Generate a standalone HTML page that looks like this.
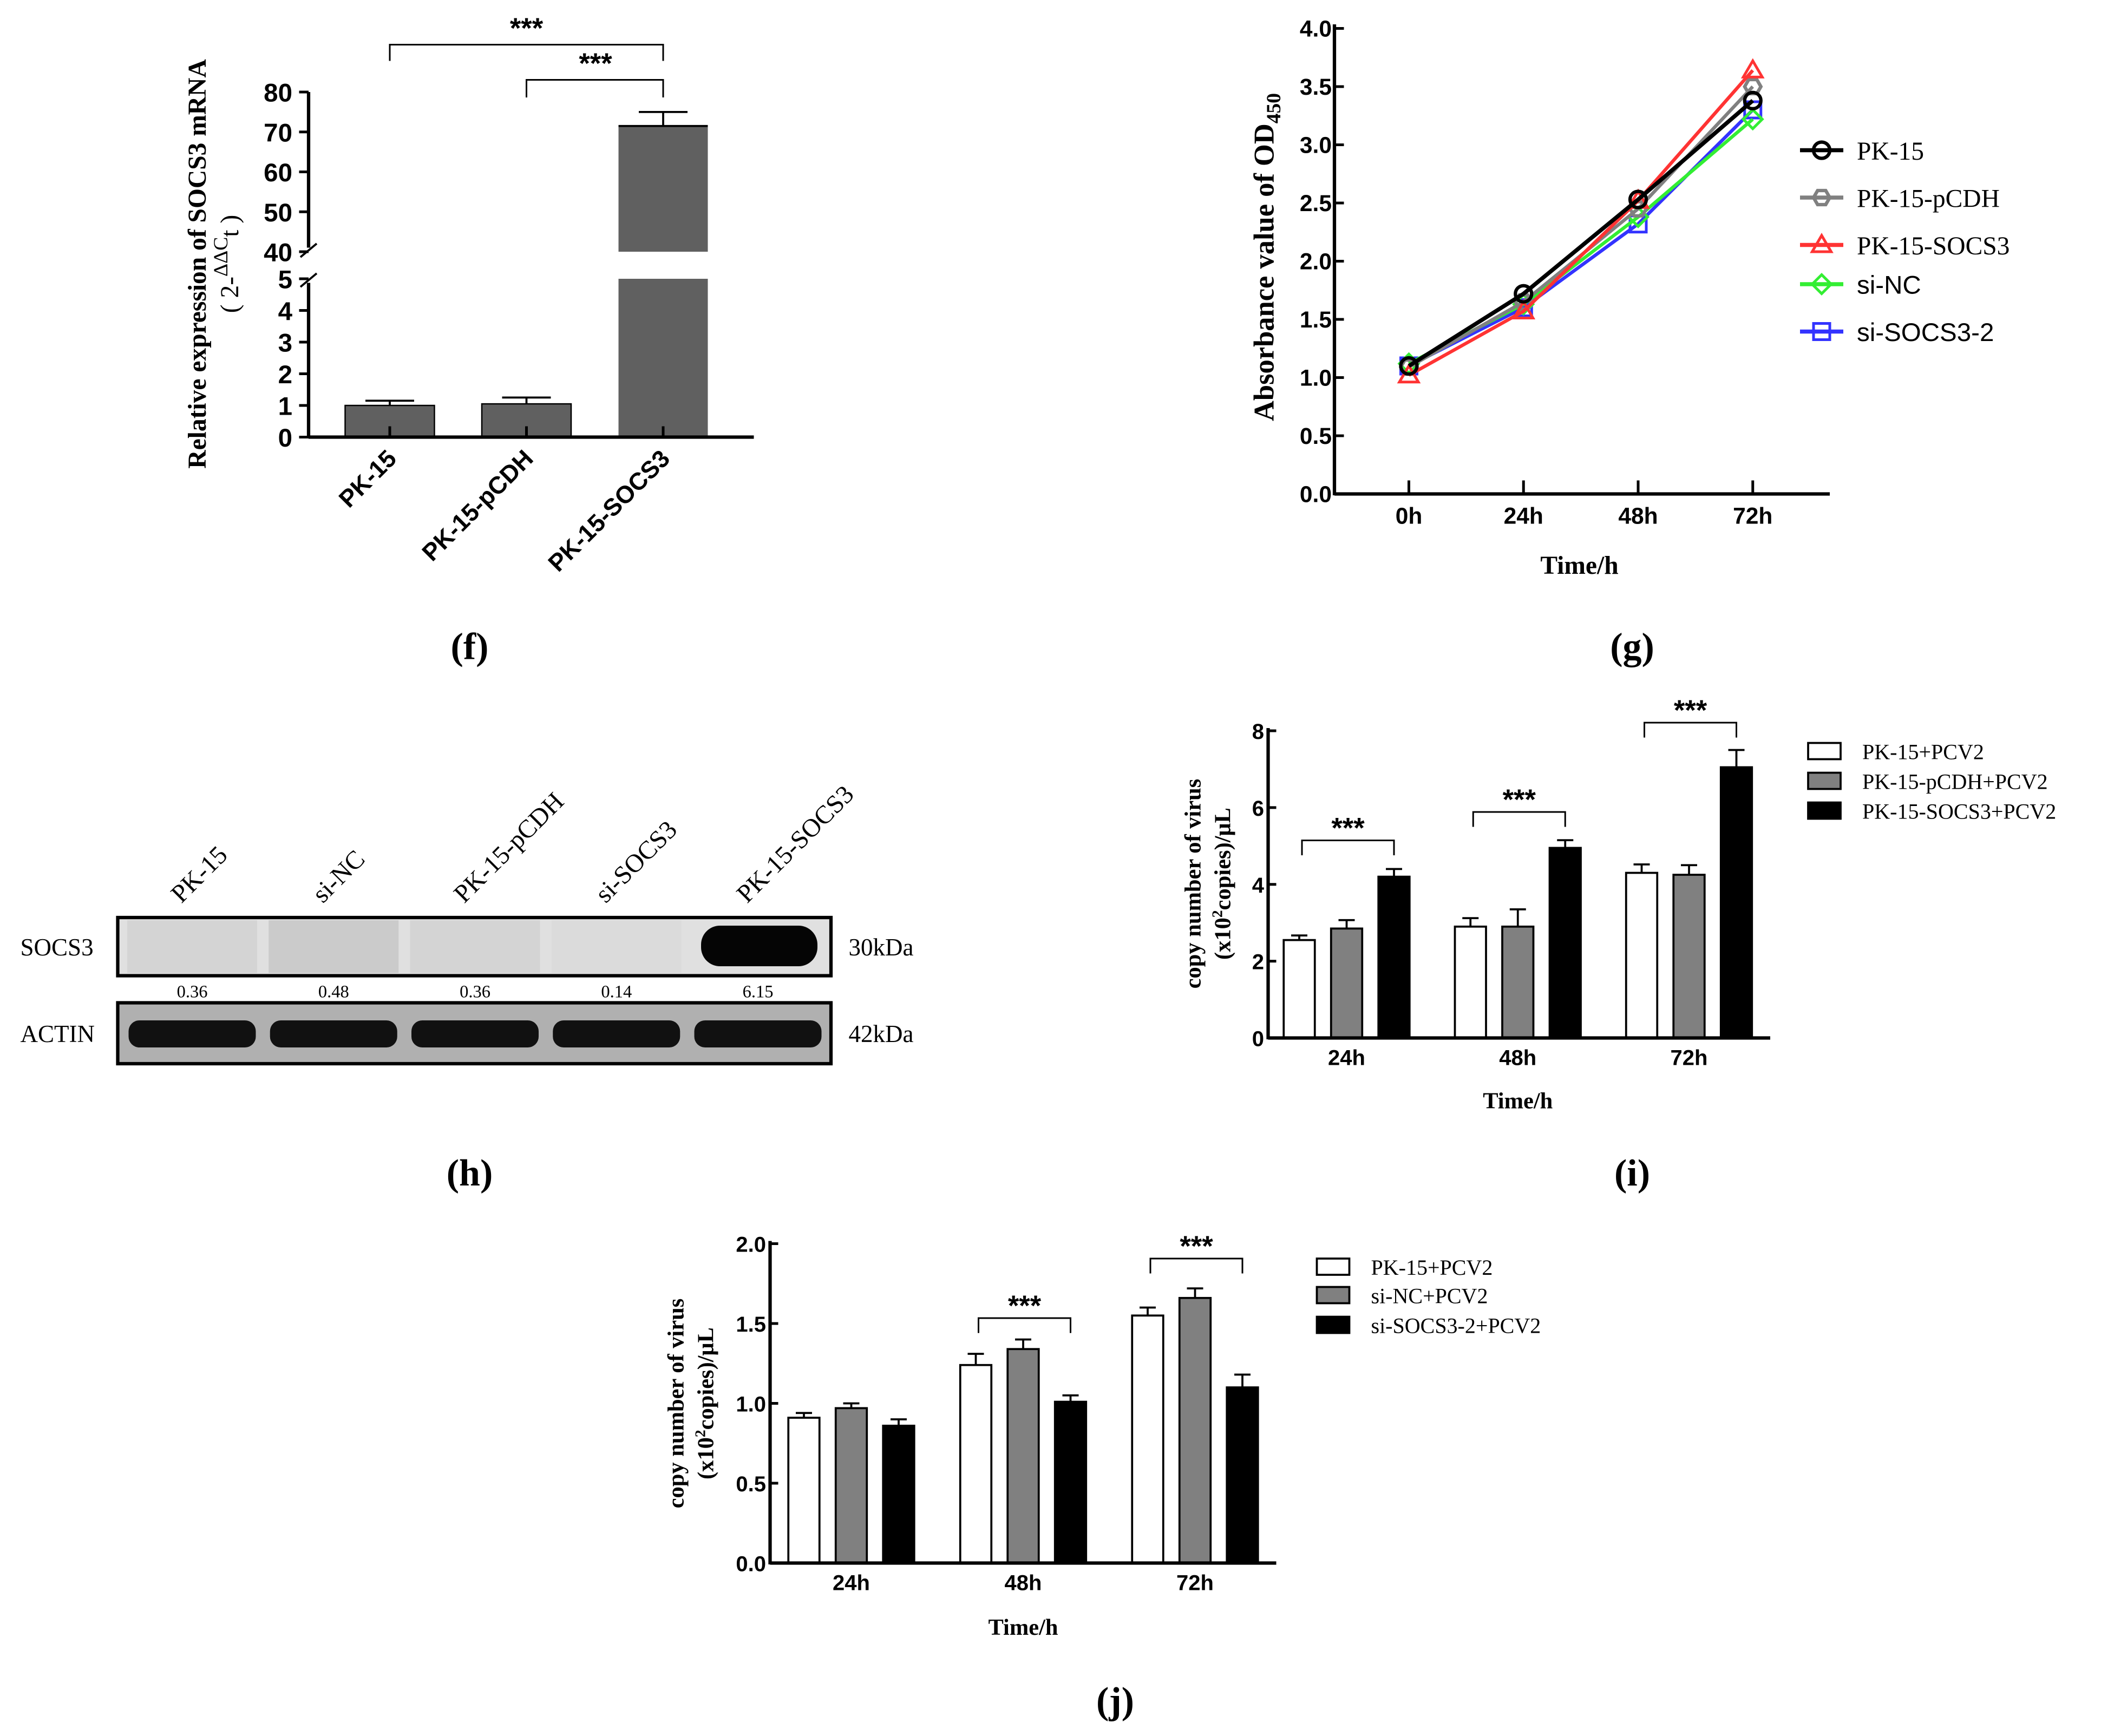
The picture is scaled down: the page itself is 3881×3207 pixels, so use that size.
<!DOCTYPE html>
<html><head><meta charset="utf-8">
<style>
html,body{margin:0;padding:0;background:#fff;}
svg{display:block;}
.ax{font-family:"Liberation Sans",Arial,sans-serif;font-weight:bold;}
.sf{font-family:"Liberation Serif","Times New Roman",serif;}
.ln{font-family:"Liberation Sans",Arial,sans-serif;}
</style></head>
<body>
<svg id="root" width="3881" height="3207" viewBox="0 0 1552.4 1282.8" xmlns="http://www.w3.org/2000/svg">
<rect width="1552.4" height="1282.8" fill="#fff"/>
<g id="pf"></g>
<g id="pg"></g>
<g id="ph"></g>
<g id="pi"></g>
<g id="pj"></g>
</svg>
<script>
// ---------- data ----------
const fCategories = ["PK-15","PK-15-pCDH","PK-15-SOCS3"];
const fValues = [1.0, 1.05, 71.5];
const fErrors = [0.15, 0.2, 3.5];
const fUpperTicks = [40,50,60,70,80];
const fLowerTicks = [0,1,2,3,4,5];

const gTimes = ["0h","24h","48h","72h"];
const gSeriesNames = ["PK-15","PK-15-pCDH","PK-15-SOCS3","si-NC","si-SOCS3-2"];
const gPK15 = [1.10,1.72,2.53,3.38];
const gPCDH = [1.09,1.65,2.45,3.50];
const gSOCS3 = [1.02,1.57,2.52,3.64];
const gSiNC = [1.12,1.63,2.38,3.22];
const gSiSOCS3 = [1.10,1.60,2.32,3.30];
const gTicks = [0,0.5,1,1.5,2,2.5,3,3.5,4];

const hLanes = ["PK-15","si-NC","PK-15-pCDH","si-SOCS3","PK-15-SOCS3"];
const hRatios = ["0.36","0.48","0.36","0.14","6.15"];

const iGroups = ["24h","48h","72h"];
const iSeriesNames = ["PK-15+PCV2","PK-15-pCDH+PCV2","PK-15-SOCS3+PCV2"];
const iPK15 = [2.55,2.9,4.3];
const iPK15Err = [0.12,0.22,0.22];
const iPCDH = [2.85,2.9,4.25];
const iPCDHErr = [0.22,0.45,0.25];
const iSOCS3 = [4.2,4.95,7.05];
const iSOCS3Err = [0.2,0.2,0.45];
const iTicks = [0,2,4,6,8];

const jGroups = ["24h","48h","72h"];
const jSeriesNames = ["PK-15+PCV2","si-NC+PCV2","si-SOCS3-2+PCV2"];
const jPK15 = [0.91,1.24,1.55];
const jPK15Err = [0.03,0.07,0.05];
const jSiNC = [0.97,1.34,1.66];
const jSiNCErr = [0.03,0.06,0.06];
const jSiSOCS3 = [0.86,1.01,1.10];
const jSiSOCS3Err = [0.04,0.04,0.08];
const jTicks = [0,0.5,1.0,1.5,2.0];

// ---------- helpers ----------
const NS="http://www.w3.org/2000/svg";
function mk(parent, tag, attrs, text){
  const e=document.createElementNS(NS,tag);
  for(const k in attrs) e.setAttribute(k,attrs[k]);
  if(text!==undefined) e.textContent=text;
  parent.appendChild(e); return e;
}
function line(p,x1,y1,x2,y2,w,c,name){
  const e=mk(p,"line",{x1,y1,x2,y2,stroke:c||"#000","stroke-width":w||2});
  
  
  return e;
}
function txt(p,x,y,s,cls,size,anchor,name,extra){
  const a={x,y,"class":cls,"font-size":size,"text-anchor":anchor||"middle"};
  if(extra) for(const k in extra) a[k]=extra[k];
  const e=mk(p,"text",a,s);
  
  
  return e;
}
function bracket(p,x1,x2,y,drop,sx,sy,name){
  const e=mk(p,"path",{d:`M${x1},${y+drop}V${y}H${x2}V${y+drop}`,fill:"none",stroke:"#000","stroke-width":1.2});
  
  
  txt(p,sx,sy+6,"***","ax",21,"middle","significance-stars");
}

// ---------- panel f ----------
(function(){
  const p=document.getElementById("pf");
  const x0=228, xEnd=557, y0=323;
  const yLow=v=>323-v*23.4;
  const yUp=v=>186-(v-40)*2.95;
  const yv=v=>v<=5?yLow(v):yUp(v);
  const cx=i=>288+i*101;
  const bw=66;
  fCategories.forEach((c,i)=>{
    const v=fValues[i], e=fErrors[i], x=cx(i);
    const g=mk(p,"g",{});
    
    
    if(v<=5){
      mk(g,"rect",{x:x-bw/2,y:yLow(v),width:bw,height:y0-yLow(v),fill:"#606060",stroke:"#000","stroke-width":1});
    } else {
      mk(g,"rect",{x:x-bw/2,y:yLow(5),width:bw,height:y0-yLow(5),fill:"#606060"});
      mk(g,"rect",{x:x-bw/2,y:yUp(v),width:bw,height:yUp(40)-yUp(v),fill:"#606060"});
      line(g,x-bw/2,yUp(v),x+bw/2,yUp(v),1.5,"#000","bar-top");
    }
    line(g,x,yv(v),x,yv(v+e),1.5,"#000","error-bar");
    line(g,x-18,yv(v+e),x+18,yv(v+e),1.5,"#000","error-cap");
    line(g,x,y0,x,y0-8,2,"#000","x-tick");
  });
  line(p,x0,68,x0,183,2.5,"#000","y-axis-upper");
  line(p,x0,209,x0,y0+1,2.5,"#000","y-axis-lower");
  line(p,222,190,234,180,1.5,"#000","axis-break");
  line(p,222,212,234,202,1.5,"#000","axis-break");
  line(p,x0,y0,xEnd,y0,2.5,"#000","x-axis");
  fUpperTicks.forEach(t=>{line(p,x0-7,yUp(t),x0,yUp(t),2,"#000","y-tick");txt(p,216,yUp(t)+7,String(t),"ax",19,"end","y-tick-label");});
  fLowerTicks.forEach(t=>{line(p,x0-7,yLow(t),x0,yLow(t),2,"#000","y-tick");txt(p,216,yLow(t)+7,String(t),"ax",19,"end","y-tick-label");});
  fCategories.forEach((c,i)=>{
    txt(p,cx(i)+6,340,c,"ax",18,"end","x-tick-label",{transform:`rotate(-45 ${cx(i)+6} 340)`});
  });
  bracket(p,288,490,33,12,389,22,"bracket-pk15-socs3");
  bracket(p,389,490,59,13,440,48,"bracket-pcdh-socs3");
  txt(p,152,195,"Relative expression of SOCS3 mRNA","sf",19,"middle","y-axis-title",{transform:"rotate(-90 152 195)","font-weight":"bold"});
  const t2=txt(p,176,195,"","sf",19,"middle","y-axis-title-unit",{transform:"rotate(-90 176 195)"});
  t2.innerHTML='( 2-<tspan dy="-8" font-size="15">ΔΔC</tspan><tspan dy="8">t</tspan> )';
  txt(p,347,487,"(f)","sf",28,"middle","panel-label-f",{"font-weight":"bold"});
})();

// ---------- panel g ----------
(function(){
  const p=document.getElementById("pg");
  const x0=986,y0=365,xEnd=1352;
  const y=v=>365-v*86;
  const x=i=>1041+i*84.7;
  const cols=["#000","#808080","#ff3333","#33ee33","#3333ff"];
  const data=[gPK15,gPCDH,gSOCS3,gSiNC,gSiSOCS3];
  const shapes=["circle","hex","tri","dia","sq"];
  function marker(g,cx,cy,shape,c){
    let e;
    if(shape==="circle") e=mk(g,"circle",{cx,cy,r:6,fill:"none",stroke:c,"stroke-width":2.5});
    else if(shape==="hex") e=mk(g,"polygon",{points:[0,1,2,3,4,5].map(k=>`${cx+6*Math.cos(k*Math.PI/3)},${cy+6*Math.sin(k*Math.PI/3)}`).join(" "),fill:"none",stroke:c,"stroke-width":2.5});
    else if(shape==="tri") e=mk(g,"polygon",{points:`${cx},${cy-7} ${cx+7},${cy+5} ${cx-7},${cy+5}`,fill:"none",stroke:c,"stroke-width":2});
    else if(shape==="dia") e=mk(g,"polygon",{points:`${cx},${cy-7} ${cx+7},${cy} ${cx},${cy+7} ${cx-7},${cy}`,fill:"none",stroke:c,"stroke-width":2});
    else e=mk(g,"rect",{x:cx-6,y:cy-6,width:12,height:12,fill:"none",stroke:c,"stroke-width":2});
    
    
  }
  [4,3,1,2,0].forEach(s=>{
    const g=mk(p,"g",{});
    
    
    const pl=mk(g,"polyline",{points:data[s].map((v,i)=>`${x(i)},${y(v)}`).join(" "),fill:"none",stroke:cols[s],"stroke-width":s===0?3:2.5});
    
    
    data[s].forEach((v,i)=>marker(g,x(i),y(v),shapes[s],cols[s]));
  });
  line(p,x0,18,x0,y0+1,2.5,"#000","y-axis");
  line(p,x0,y0,xEnd,y0,2.5,"#000","x-axis");
  gTicks.forEach(t=>{line(p,x0,y(t),x0+7,y(t),2,"#000","y-tick");txt(p,984,y(t)+6,t.toFixed(1),"ax",17,"end","y-tick-label");});
  gTimes.forEach((t,i)=>{line(p,x(i),y0,x(i),y0-10,2,"#000","x-tick");txt(p,x(i),387,t,"ax",17,"middle","x-tick-label");});
  txt(p,1167,424,"Time/h","sf",19,"middle","x-axis-title",{"font-weight":"bold"});
  const yt=txt(p,941,190,"","sf",21,"middle","y-axis-title",{transform:"rotate(-90 941 190)","font-weight":"bold"});
  yt.innerHTML='Absorbance value of OD<tspan dy="5" font-size="15">450</tspan>';
  const ly=[111,146,181,210,245];
  gSeriesNames.forEach((n,s)=>{
    const g=mk(p,"g",{});
    
    
    line(g,1330,ly[s],1362,ly[s],3,cols[s],"legend-line");
    marker(g,1346,ly[s],shapes[s],cols[s]);
    txt(g,1372,ly[s]+7,n,s<3?"sf":"ln",19,"start","legend-label");
  });
  txt(p,1206,487,"(g)","sf",28,"middle","panel-label-g",{"font-weight":"bold"});
})();

// ---------- panel h ----------
(function(){
  const p=document.getElementById("ph");
  const lx=i=>142+i*104.5;
  const b1=mk(p,"rect",{x:87,y:678,width:527,height:43,fill:"#e0e0e0",stroke:"#000","stroke-width":2.5});
  
  
  const blob=[0.05,0.09,0.05,0.02];
  blob.forEach((o,i)=>{const r=mk(p,"rect",{x:lx(i)-48,y:680,width:96,height:39,fill:"#000","fill-opacity":o});});
  const sb=mk(p,"rect",{x:518,y:684,width:86,height:30,rx:14,fill:"#050505"});
  
  
  const b2=mk(p,"rect",{x:87,y:741,width:527,height:45,fill:"#b0b0b0",stroke:"#000","stroke-width":2.5});
  
  
  hLanes.forEach((l,i)=>{
    const r=mk(p,"rect",{x:lx(i)-47,y:754,width:94,height:20,rx:8,fill:"#111"});
    
    
    txt(p,lx(i)-8,668,l,"sf",19,"start","lane-label",{transform:`rotate(-45 ${lx(i)-8} 668)`});
    txt(p,lx(i),737,hRatios[i],"sf",13,"middle","band-ratio");
  });
  txt(p,15,706,"SOCS3","sf",18,"start","row-label-socs3");
  txt(p,15,770,"ACTIN","sf",18,"start","row-label-actin");
  txt(p,627,706,"30kDa","sf",18,"start","mw-30kda");
  txt(p,627,770,"42kDa","sf",18,"start","mw-42kda");
  txt(p,347,876,"(h)","sf",28,"middle","panel-label-h",{"font-weight":"bold"});
})();

// ---------- grouped bars ----------
function grouped(pid,opt){
  const p=document.getElementById(pid);
  const {x0,y0,xEnd,yTop,max,groups,series,errs,names,ticks,dec,gx,brackets,legX,legY,ytx,ytY,timeY,lab,labX,labY}=opt;
  const y=v=>y0-(v/max)*(y0-yTop);
  const fills=["#fff","#808080","#000"];
  const bw=23;
  series.forEach((vals,s)=>{
    vals.forEach((v,gi)=>{
      const cx=gx(gi)+(s-1)*35;
      const g=mk(p,"g",{});
      
      
      mk(g,"rect",{x:cx-bw/2,y:y(v),width:bw,height:y0-y(v),fill:fills[s],stroke:"#000","stroke-width":1.5});
      line(g,cx,y(v),cx,y(v+errs[s][gi]),1.5,"#000","error-bar");
      line(g,cx-6,y(v+errs[s][gi]),cx+6,y(v+errs[s][gi]),1.5,"#000","error-cap");
    });
  });
  line(p,x0,yTop-2,x0,y0+1,2.5,"#000","y-axis");
  line(p,x0,y0,xEnd,y0,2.5,"#000","x-axis");
  ticks.forEach(t=>{line(p,x0,y(t),x0+6,y(t),2,"#000","y-tick");txt(p,x0-3,y(t)+6,t.toFixed(dec),"ax",16,"end","y-tick-label");});
  groups.forEach((gname,i)=>txt(p,gx(i),y0+20,gname,"ax",16,"middle","x-tick-label"));
  brackets.forEach(b=>bracket(p,gx(b.g)-33,gx(b.g)+35,b.y,11,gx(b.g)+1,b.y-8,"bracket-"+groups[b.g]));
  txt(p,gx(1),timeY,"Time/h","sf",17,"middle","x-axis-title",{"font-weight":"bold"});
  txt(p,ytx,ytY,"copy number of virus","sf",17,"middle","y-axis-title",{transform:`rotate(-90 ${ytx} ${ytY})`,"font-weight":"bold"});
  const t2=txt(p,ytx+22,ytY,"","sf",17,"middle","y-axis-title-unit",{transform:`rotate(-90 ${ytx+22} ${ytY})`,"font-weight":"bold"});
  t2.innerHTML='(x10<tspan dy="-6" font-size="11">2</tspan><tspan dy="6">copies)/μL</tspan>';
  names.forEach((n,s)=>{
    const g=mk(p,"g",{});
    
    
    mk(g,"rect",{x:legX,y:legY[s]-6,width:24,height:12,fill:fills[s],stroke:"#000","stroke-width":1.5});
    txt(g,legX+40,legY[s]+6,n,"sf",16,"start","legend-label");
  });
  txt(p,labX,labY,lab,"sf",28,"middle","panel-label",{"font-weight":"bold"});
}
grouped("pi",{x0:937,y0:767,xEnd:1308,yTop:540,max:8,groups:iGroups,series:[iPK15,iPCDH,iSOCS3],errs:[iPK15Err,iPCDHErr,iSOCS3Err],names:iSeriesNames,ticks:iTicks,dec:0,gx:i=>995+i*126.5,brackets:[{g:0,y:621},{g:1,y:600},{g:2,y:534}],legX:1336,legY:[555,577,599],ytx:887,ytY:653,timeY:819,lab:"(i)",labX:1206,labY:876});
grouped("pj",{x0:569,y0:1155,xEnd:943,yTop:919,max:2,groups:jGroups,series:[jPK15,jSiNC,jSiSOCS3],errs:[jPK15Err,jSiNCErr,jSiSOCS3Err],names:jSeriesNames,ticks:jTicks,dec:1,gx:i=>629+i*127,brackets:[{g:1,y:974},{g:2,y:930}],legX:973,legY:[936,957,979],ytx:505,ytY:1037,timeY:1208,lab:"(j)",labX:824,labY:1266});
</script>
</body></html>
